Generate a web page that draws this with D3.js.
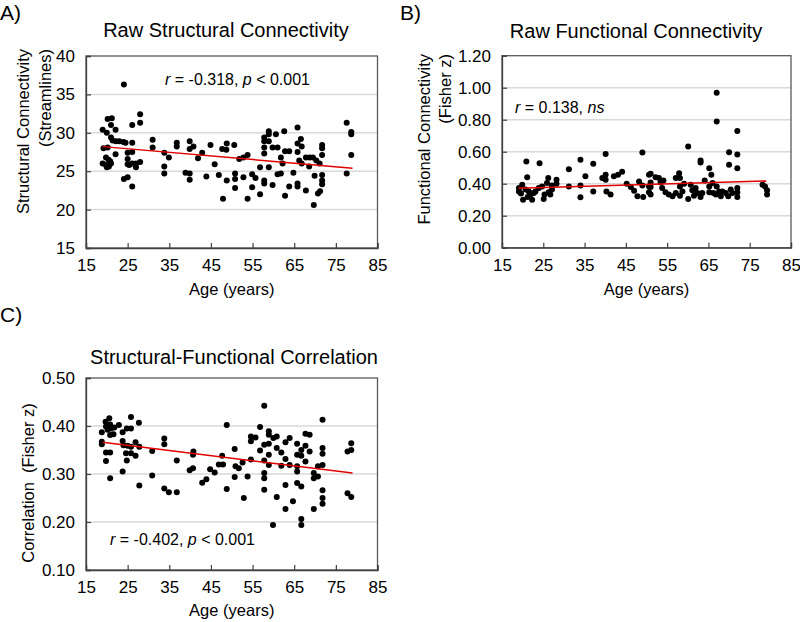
<!DOCTYPE html>
<html><head><meta charset="utf-8">
<script src="https://cdn.jsdelivr.net/npm/d3@7"></script>
<style>
body{margin:0;background:#fff}
svg{display:block}
text{font-family:Arial,"Liberation Sans",sans-serif;fill:#000}
</style>
</head><body>
<svg id="chart" width="800" height="622"></svg>
<script>
// ---------- data ----------
const xTicks = [15,25,35,45,55,65,75,85];
const yTicksA = [15,20,25,30,35,40];
const yTicksB = [0,0.2,0.4,0.6,0.8,1.0,1.2];
const yTicksC = [0.1,0.2,0.3,0.4,0.5];

// Panel A: raw structural connectivity (streamlines)
const agesA = [24.1,19.0,20.2,21.2,21.0,22.1,20.0,21.0,21.4,22.2,23.0,24.0,24.5,19.2,20.2,22.1,19.8,20.4,20.8,19.0,19.8,20.5,21.0,20.0,
  24.1,25.0,26.1,26.1,28.0,28.0,26.1,25.0,26.1,25.0,25.0,26.1,27.0,27.0,28.0,25.4,31.0,31.0,33.8,34.9,33.8,33.8,36.8,36.8,
  39.9,40.8,39.9,41.9,42.9,38.9,39.9,39.9,43.9,44.9,45.9,46.9,47.7,48.7,48.8,47.9,48.8,50.6,51.8,52.8,53.8,50.8,50.8,50.8,
  52.8,53.8,54.9,54.9,55.7,56.8,56.8,57.8,57.8,58.9,59.8,57.8,57.8,57.8,57.8,58.9,58.9,58.9,59.8,60.6,61.0,61.8,61.0,61.8,
  62.6,63.8,62.8,62.2,62.8,63.8,64.8,65.8,65.8,65.8,65.8,65.8,66.6,66.8,66.2,66.8,67.8,68.7,69.5,70.3,71.1,67.8,69.7,68.6,
  69.9,70.7,71.7,71.7,71.7,71.7,71.7,71.7,71.2,77.6,78.7,78.7,78.7,77.6];
const structA = [36.3,30.4,31.8,31.9,31.0,30.4,30.0,29.4,29.0,28.9,28.9,28.8,28.7,28.0,28.1,27.2,26.8,26.5,26.3,26.0,25.8,25.6,26.0,25.5,
  24.0,24.2,23.0,31.0,32.4,31.3,28.7,27.4,27.5,26.6,25.9,26.0,26.0,25.5,26.2,25.8,29.1,28.1,27.4,26.8,25.6,24.7,28.7,28.2,
  28.9,28.2,27.9,26.7,27.4,24.8,24.7,23.9,24.3,28.4,25.9,24.5,27.9,27.8,28.6,21.4,23.8,28.4,26.6,26.8,27.1,24.7,24.0,22.8,
  24.2,21.4,24.6,22.9,24.1,25.5,22.0,23.8,23.4,25.5,23.2,29.4,28.9,28.1,27.3,30.2,29.8,28.9,28.1,29.8,28.1,26.8,24.6,24.7,
  30.2,27.6,27.6,26.0,21.8,23.0,24.8,30.7,28.6,27.5,23.4,23.0,29.2,28.2,26.4,26.0,26.8,26.8,26.8,26.4,26.0,22.5,20.6,25.6,
  24.4,22.1,28.4,28.0,27.1,24.5,23.8,23.3,22.4,31.3,30.1,29.8,27.1,24.7];
const fitAgesA = [19,79];
const fitA = [28.2,25.4];

// Panel B: raw functional connectivity (Fisher z)
const agesB = [19.1,19.1,19.9,19.6,20.1,20.9,21.1,20.7,21.5,21.9,22.3,21.2,22.7,23.1,24.1,23.9,24.7,25.1,25.3,25.9,26.2,26.3,26.7,27.1,27.1,
  28.2,28.2,31.2,31.2,34.0,34.0,34.0,35.2,37.1,37.1,40.1,40.1,39.3,40.1,40.3,41.3,42.1,43.1,44.1,45.2,46.2,47.0,47.8,48.2,49.0,49.0,49.2,
  50.6,50.6,50.6,51.0,51.0,51.0,51.0,52.2,53.0,53.4,54.1,53.8,54.6,55.4,56.3,57.1,57.1,57.9,58.1,58.1,58.1,58.7,59.1,60.1,60.1,60.7,
  61.1,61.5,61.9,63.1,63.1,62.3,63.5,63.1,64.1,65.2,65.2,65.2,65.7,66.0,66.2,67.0,67.0,67.0,66.8,67.6,68.0,68.4,69.2,70.0,70.0,69.8,
  70.4,70.8,72.0,72.0,72.0,72.0,72.0,72.0,78.1,78.7,79.2,79.2];
const funcB = [0.352,0.373,0.394,0.338,0.300,0.539,0.440,0.363,0.352,0.332,0.300,0.317,0.342,0.352,0.528,0.373,0.383,0.305,0.332,0.404,0.435,0.346,0.332,0.363,0.388,
  0.425,0.400,0.491,0.383,0.549,0.388,0.315,0.446,0.524,0.352,0.585,0.456,0.435,0.425,0.352,0.332,0.446,0.456,0.475,0.400,0.379,0.356,0.321,0.414,0.595,0.388,0.317,
  0.456,0.383,0.346,0.462,0.408,0.380,0.332,0.441,0.435,0.408,0.420,0.373,0.346,0.332,0.321,0.435,0.342,0.466,0.435,0.383,0.325,0.352,0.400,0.632,0.305,0.394,
  0.359,0.325,0.373,0.545,0.533,0.342,0.342,0.317,0.420,0.497,0.383,0.346,0.456,0.404,0.342,0.968,0.788,0.383,0.332,0.352,0.321,0.352,0.342,0.597,0.518,0.321,
  0.363,0.342,0.730,0.582,0.497,0.373,0.346,0.317,0.394,0.383,0.359,0.332];
const fitAgesB = [19,79];
const fitB = [0.371,0.417];

// Panel C: structural-functional correlation (Fisher z)
const agesC = [18.8,18.8,18.8,19.7,19.8,20.6,20.8,20.2,21.0,21.6,21.8,22.9,20.8,19.8,20.8,19.8,20.8,23.8,23.8,24.0,24.8,25.8,25.8,25.0,24.6,25.8,25.8,
  26.9,26.9,24.8,23.8,27.7,27.8,27.8,30.9,30.9,33.8,33.8,33.8,34.9,36.8,36.8,39.9,40.8,40.7,40.7,42.9,43.9,44.8,45.9,46.9,47.9,47.7,48.8,48.8,
  50.7,50.7,50.9,51.7,52.6,52.9,53.8,54.6,54.6,54.6,55.7,56.8,56.8,57.8,57.8,57.8,57.8,57.8,57.8,58.9,58.9,58.9,58.9,58.9,59.9,60.0,60.8,60.8,60.8,
  61.9,61.9,62.9,62.9,62.9,62.9,63.9,63.9,64.7,65.7,65.7,65.7,65.7,65.7,66.7,66.7,66.7,66.7,66.7,67.7,67.7,67.7,68.7,68.7,69.7,69.7,69.7,70.7,70.7,
  71.8,71.8,71.8,71.8,71.8,71.8,71.8,77.8,77.8,78.7,78.7,78.7];
const corrC = [0.387,0.367,0.362,0.409,0.399,0.416,0.403,0.392,0.395,0.383,0.397,0.402,0.381,0.345,0.345,0.327,0.291,0.387,0.369,0.360,0.395,0.419,0.395,0.359,0.343,0.357,0.343,
  0.366,0.338,0.328,0.305,0.407,0.357,0.276,0.348,0.297,0.374,0.362,0.270,0.262,0.328,0.262,0.308,0.347,0.312,0.340,0.282,0.289,0.310,0.303,0.320,0.320,0.338,0.402,0.269,
  0.352,0.294,0.316,0.312,0.324,0.250,0.295,0.330,0.378,0.368,0.376,0.398,0.349,0.442,0.361,0.328,0.302,0.291,0.267,0.389,0.382,0.363,0.340,0.319,0.194,0.375,0.378,0.354,0.252,
  0.345,0.317,0.227,0.277,0.331,0.366,0.375,0.319,0.243,0.363,0.340,0.316,0.305,0.281,0.350,0.338,0.274,0.206,0.194,0.384,0.326,0.359,0.382,0.347,0.302,0.291,0.227,0.316,0.295,
  0.413,0.354,0.342,0.319,0.266,0.250,0.238,0.347,0.260,0.364,0.350,0.252];
const fitAgesC = [19,79];
const fitC = [0.366,0.302];

// ---------- drawing ----------
const svg = d3.select('#chart');
svg.append('rect').attr('width',800).attr('height',622).attr('fill','#fff');

function panel(cfg){
  const g = svg.append('g');
  const x = d3.scaleLinear().domain([15,85]).range([cfg.l,cfg.r]);
  const y = d3.scaleLinear().domain([cfg.yTicks[0], cfg.yTicks[cfg.yTicks.length-1]]).range([cfg.b,cfg.t]);

  // gridlines
  g.selectAll('line.grid').data(cfg.yTicks.slice(1,-1)).join('line')
    .attr('x1',cfg.l).attr('x2',cfg.r)
    .attr('y1',d=>y(d)).attr('y2',d=>y(d))
    .attr('stroke','#d9d9d9').attr('stroke-width',1.5);

  // frame
  g.append('rect').attr('x',cfg.l).attr('y',cfg.t)
    .attr('width',cfg.r-cfg.l).attr('height',cfg.b-cfg.t)
    .attr('fill','none').attr('stroke','#595959').attr('stroke-width',1.3);

  // axes
  const ya = g.append('g').attr('transform',`translate(${cfg.l},0)`)
    .call(d3.axisLeft(y).tickValues(cfg.yTicks).tickFormat(cfg.fmt).tickSize(-5).tickPadding(11));
  const xa = g.append('g').attr('transform',`translate(0,${cfg.b})`)
    .call(d3.axisBottom(x).tickValues(xTicks).tickFormat(d3.format('d')).tickSize(-5).tickPadding(11));
  [ya,xa].forEach(a=>{
    a.select('.domain').attr('stroke','#404040').attr('stroke-width',1.3);
    a.selectAll('.tick line').attr('stroke','#404040').attr('stroke-width',1.2);
    a.selectAll('.tick text').attr('font-size',17).attr('fill','#000')
      .style('font-family','Arial, "Liberation Sans", sans-serif');
  });

  // points
  g.selectAll('circle').data(cfg.ages).join('circle')
    .attr('cx',d=>x(d)).attr('cy',(d,i)=>y(cfg.vals[i])).attr('r',3).attr('fill','#000');

  // trend line
  g.append('line')
    .attr('x1',x(cfg.fitAges[0])).attr('y1',y(cfg.fit[0]))
    .attr('x2',x(cfg.fitAges[1])).attr('y2',y(cfg.fit[1]))
    .attr('stroke','#e00000').attr('stroke-width',1.5);

  // title
  g.append('text').attr('x',cfg.titleX).attr('y',cfg.titleY).attr('text-anchor','middle')
    .attr('font-size',20).text(cfg.title);
  // panel letter
  g.append('text').attr('x',cfg.letterX).attr('y',cfg.letterY).attr('font-size',21).text(cfg.letter);
  // x label
  g.append('text').attr('x',(cfg.l+cfg.r)/2).attr('y',cfg.xlabY).attr('text-anchor','middle')
    .attr('font-size',16.5).text('Age (years)');
  // y labels
  cfg.ylabels.forEach(lb=>{
    g.append('text').attr('transform',`translate(${lb.x},${lb.y}) rotate(-90)`)
      .attr('text-anchor',lb.anchor).attr('font-size',16.5).text(lb.text);
  });
  // annotation
  const t = g.append('text').attr('x',cfg.annX).attr('y',cfg.annY).attr('font-size',16);
  cfg.ann.forEach(p=>{
    t.append('tspan').attr('font-style',p[1]?'italic':'normal').text(p[0]);
  });
}

panel({l:86,r:377.5,t:56,b:248,yTicks:yTicksA,fmt:d3.format('d'),
  ages:agesA,vals:structA,fitAges:fitAgesA,fit:fitA,
  title:'Raw Structural Connectivity',titleX:226,titleY:37,letter:'A)',letterX:0,letterY:20,xlabY:295,
  ylabels:[{x:29,y:49,anchor:'end',text:'Structural Connectivity'},{x:51,y:49,anchor:'end',text:'(Streamlines)'}],
  annX:165,annY:85,ann:[['r',true],[' = -0.318, ',false],['p',true],[' < 0.001',false]]});

panel({l:502,r:791,t:55.7,b:247.7,yTicks:yTicksB,fmt:d3.format('.2f'),
  ages:agesB,vals:funcB,fitAges:fitAgesB,fit:fitB,
  title:'Raw Functional Connectivity',titleX:636,titleY:38,letter:'B)',letterX:400,letterY:20,xlabY:295,
  ylabels:[{x:430,y:54,anchor:'end',text:'Functional Connectivity'},{x:451,y:54,anchor:'end',text:'(Fisher z)'}],
  annX:515,annY:113,ann:[['r',true],[' = 0.138, ',false],['ns',true]]});

panel({l:86,r:377.5,t:378,b:570,yTicks:yTicksC,fmt:d3.format('.2f'),
  ages:agesC,vals:corrC,fitAges:fitAgesC,fit:fitC,
  title:'Structural-Functional Correlation',titleX:234,titleY:364,letter:'C)',letterX:0,letterY:322,xlabY:616,
  ylabels:[{x:34,y:483,anchor:'middle',text:'Correlation\u00a0\u00a0(Fisher z)'}],
  annX:110,annY:545,ann:[['r',true],[' = -0.402, ',false],['p',true],[' < 0.001',false]]});
</script>
</body></html>
